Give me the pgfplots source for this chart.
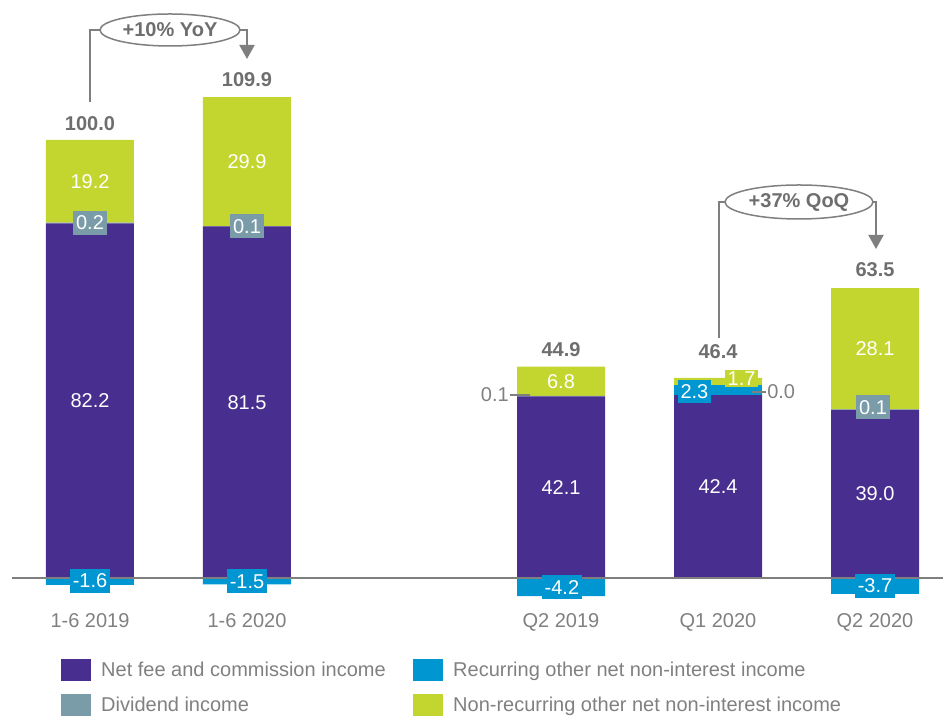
\documentclass[border=0pt]{standalone}
\usepackage{fontspec}
\setmainfont{Liberation Sans}
\usepackage{pgfplots}
\usepackage{pgfplotstable}
\pgfplotsset{compat=1.18}
\usetikzlibrary{arrows.meta}
\definecolor{cpurple}{HTML}{482E8E}
\definecolor{cgreen}{HTML}{C3D62F}
\definecolor{cblue}{HTML}{0096D2}
\definecolor{cdiv}{HTML}{7A9BA8}
\definecolor{ctext}{HTML}{808080}
\definecolor{ctot}{HTML}{6E6E6E}
\definecolor{cline}{HTML}{7F7F7F}

\pgfplotstableread{
x net div recpos nonrec recneg
0 82.2 0.2 0.0 19.2 -1.6
1 81.5 0.1 0.0 29.9 -1.5
3 42.1 0.1 0.0 6.8 -4.2
4 42.4 0.0 2.3 1.7 0.0
5 39.0 0.1 0.0 28.1 -3.7
}\data

\pgfplotsset{base/.style={width=943pt,height=717pt,scale only axis,
  xmin=-0.5732,xmax=5.4331,ymin=-32.23,ymax=134.01,
  hide axis, clip=false, bar width=0.5605, at={(0,0)}, anchor=south west}}
\tikzset{
  box/.style={text=white, inner xsep=3pt, inner ysep=0pt, minimum height=24pt},
  val/.style={text=white, inner sep=0pt},
  tot/.style={text=ctot, inner sep=0pt, font=\fontsize{20pt}{24pt}\selectfont\bfseries},
  tick/.style={text=ctext, inner sep=0pt, anchor=base}}

\begin{document}
\begin{tikzpicture}[every node/.append style={font=\fontsize{20pt}{24pt}\selectfont}]
\path[use as bounding box] (0,0) rectangle (943pt,717pt);
\begin{axis}[base, ybar stacked, bar shift=0pt]
\addplot[fill=cpurple,draw=none] table[x=x,y=net]{\data};
\addplot[fill=cdiv,draw=none] table[x=x,y=div]{\data};
\addplot[fill=cblue,draw=none] table[x=x,y=recpos]{\data};
\addplot[fill=cgreen,draw=none] table[x=x,y=nonrec]{\data};
\end{axis}
\begin{axis}[base, ybar, bar shift=0pt]
\addplot[fill=cblue,draw=none] table[x=x,y=recneg]{\data};
\draw[cline, line width=2pt] (axis cs:-0.497,0) -- (axis cs:5.4331,0);
% net fee labels
\node[val] at (axis cs:0,41.1) {82.2};
\node[val] at (axis cs:1,40.75) {81.5};
\node[val] at (axis cs:3,21.05) {42.1};
\node[val] at (axis cs:4,21.2) {42.4};
\node[val] at (axis cs:5,19.5) {39.0};
% non-recurring labels
\node[val] at (axis cs:0,92.0) {19.2};
\node[val] at (axis cs:1,96.55) {29.9};
\node[val] at (axis cs:3,45.6) {6.8};
\node[val] at (axis cs:5,53.15) {28.1};
% dividend boxes
\node[box, fill=cdiv] at (axis cs:0,82.3) {0.2};
\node[box, fill=cdiv] at (axis cs:1,81.55) {0.1};
\node[box, fill=cdiv] at (axis cs:4.987,39.6) {0.1};
% recurring boxes
\node[box, fill=cblue] at (axis cs:0,-0.7) {-1.6};
\node[box, fill=cblue] at (axis cs:1,-0.8) {-1.5};
\node[box, fill=cblue] at (axis cs:3.006,-2.1) {-4.2};
\node[box, fill=cblue] at (axis cs:5,-1.85) {-3.7};
\node[box, fill=cblue, minimum height=23pt] at (axis cs:3.850,43.24) {2.3};
\node[box, fill=cgreen, minimum height=17pt] at (axis cs:4.150,46.14) {1.7};
% side labels
\draw[cline, line width=1.5pt] (axis cs:4.217,43.1) -- (axis cs:4.306,43.1);
\node[text=ctext, inner sep=1pt, anchor=west] at (axis cs:4.306,43.1) {0.0};
\draw[cline, line width=1.5pt] (axis cs:2.675,42.43) -- (axis cs:2.803,42.43);
\node[text=ctext, inner sep=1pt, anchor=east] at (axis cs:2.675,42.43) {0.1};
% totals
\node[tot] at (axis cs:0,105.3) {100.0};
\node[tot] at (axis cs:1,115.5) {109.9};
\node[tot] at (axis cs:3,52.9) {44.9};
\node[tot] at (axis cs:4,52.4) {46.4};
\node[tot] at (axis cs:5,71.4) {63.5};
% category labels
\node[tick] at (axis cs:0,-11.4) {1-6 2019};
\node[tick] at (axis cs:1,-11.4) {1-6 2020};
\node[tick] at (axis cs:3,-11.4) {Q2 2019};
\node[tick] at (axis cs:4,-11.4) {Q1 2020};
\node[tick] at (axis cs:5,-11.4) {Q2 2020};
\end{axis}
\begin{scope}[x=1pt,y=-1pt,yshift=717pt]
% YoY
\draw[cline,line width=2pt] (90,102) -- (90,30) -- (100,30);
\draw[cline,line width=2pt,-{Triangle[width=15pt,length=14pt]}] (240,30) -- (247,30) -- (247,59);
\draw[cline,line width=1.5pt,fill=white] (170,30) ellipse [x radius=70pt, y radius=16pt];
\node[text=ctot, inner sep=0pt, font=\fontsize{20pt}{24pt}\selectfont\bfseries] at (170,30) {+10\% YoY};
% QoQ
\draw[cline,line width=2pt] (719,338) -- (719,202) -- (725,202);
\draw[cline,line width=2pt,-{Triangle[width=15pt,length=14pt]}] (873,202) -- (876,202) -- (876,249);
\draw[cline,line width=1.5pt,fill=white] (799,202) ellipse [x radius=74pt, y radius=17pt];
\node[text=ctot, inner sep=0pt, font=\fontsize{20pt}{24pt}\selectfont\bfseries] at (799,202) {+37\% QoQ};
% legend
\fill[cpurple] (61,659) rectangle (91,681);
\fill[cdiv] (61,694) rectangle (91,716);
\fill[cblue] (413,659) rectangle (443,681);
\fill[cgreen] (413,694) rectangle (443,716);
\node[text=ctext, inner sep=0pt, anchor=base west] at (101,677) {Net fee and commission income};
\node[text=ctext, inner sep=0pt, anchor=base west] at (101,712) {Dividend income};
\node[text=ctext, inner sep=0pt, anchor=base west] at (453,677) {Recurring other net non-interest income};
\node[text=ctext, inner sep=0pt, anchor=base west] at (453,712) {Non-recurring other net non-interest income};
\end{scope}
\end{tikzpicture}
\end{document}
